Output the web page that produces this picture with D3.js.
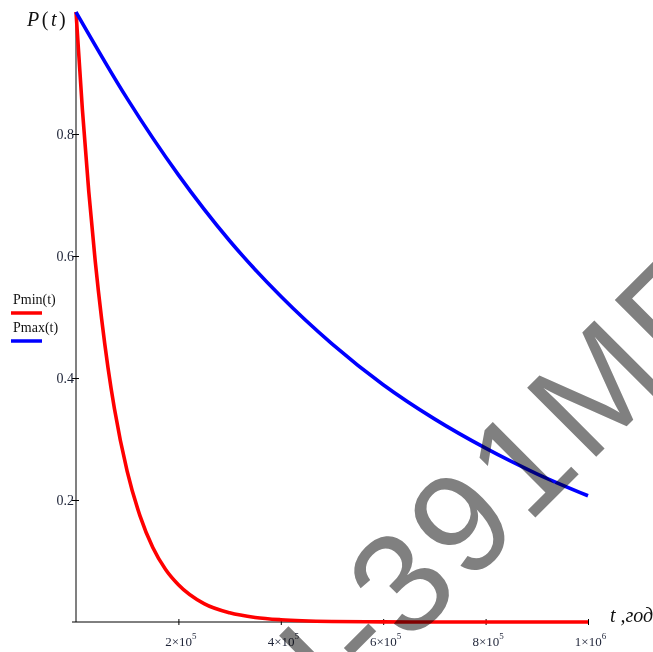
<!DOCTYPE html>
<html>
<head>
<meta charset="utf-8">
<script src="https://cdn.jsdelivr.net/npm/d3@7"></script>
<style>
  body { margin: 0; background: #fff; }
  svg { display: block; }
</style>
</head>
<body>
<svg id="chart"></svg>
<script>
// values
const tMin = [0, 12.5e3, 25e3, 37.5e3, 50e3, 62.5e3, 75e3, 100e3, 125e3, 150e3, 175e3, 200e3, 250e3, 300e3, 350e3, 400e3, 500e3, 600e3, 700e3, 800e3, 900e3, 1e6];
const pMin = [1, 0.84, 0.705, 0.592, 0.497, 0.417, 0.35, 0.247, 0.174, 0.122, 0.086, 0.061, 0.03, 0.015, 0.0074, 0.0037, 0.0009, 0.0002, 0, 0, 0, 0];

const tMax = [0, 1e5, 2e5, 3e5, 4e5, 5e5, 6e5, 7e5, 8e5, 9e5, 1e6];
const pMax = [1, 0.858, 0.733, 0.625, 0.534, 0.456, 0.389, 0.333, 0.285, 0.243, 0.207];

const xTicks = [2e5, 4e5, 6e5, 8e5, 1e6];
const xTickMant = ["2", "4", "6", "8", "1"];
const xTickExp = ["5", "5", "5", "5", "6"];
const yTicks = [0.2, 0.4, 0.6, 0.8];

const seriesNames = ["Pmin(t)", "Pmax(t)"];
const seriesColors = ["#ff0000", "#0000ff"];

const width = 653, height = 652;
const margin = { top: 12, right: 65, bottom: 30, left: 76 };
const serif = "'Liberation Serif', 'Times New Roman', serif";
const labelColor = "#1e2438";

const svg = d3.select("#chart")
  .attr("width", width)
  .attr("height", height)
  .attr("viewBox", [0, 0, width, height]);

svg.append("rect")
  .attr("width", width)
  .attr("height", height)
  .attr("fill", "#fff");

const x = d3.scaleLinear()
  .domain([0, 1e6])
  .range([margin.left, width - margin.right]);

const y = d3.scaleLinear()
  .domain([0, 1])
  .range([height - margin.bottom, margin.top]);

const yAxis = g => g
  .attr("transform", `translate(${margin.left},0)`)
  .call(d3.axisLeft(y).tickValues(yTicks).tickFormat(d3.format(".1f")).tickSizeOuter(0))
  .call(g => g.select(".domain").remove())
  .call(g => g.selectAll(".tick line").attr("x1", -4).attr("x2", 3).attr("stroke", "#000"))
  .call(g => g.selectAll(".tick text")
    .attr("x", -2)
    .attr("dy", "0.35em")
    .attr("font-family", serif)
    .attr("font-size", 14)
    .attr("fill", labelColor));

const xAxis = g => g
  .attr("transform", `translate(0,${y(0)})`)
  .call(d3.axisBottom(x).tickValues(xTicks).tickFormat("").tickSizeOuter(0))
  .call(g => g.select(".domain").remove())
  .call(g => g.selectAll(".tick line").attr("y1", -3).attr("y2", 3).attr("stroke", "#000"))
  .call(g => g.selectAll(".tick text").remove())
  .call(g => g.selectAll(".tick").append("text")
    .attr("x", 2)
    .attr("y", 24)
    .attr("text-anchor", "middle")
    .attr("font-family", serif)
    .attr("font-size", 13)
    .attr("fill", labelColor)
    .each(function(d, i) {
      const t = d3.select(this);
      t.append("tspan").text(xTickMant[i] + "\u00d710");
      t.append("tspan").attr("dy", -7).attr("font-size", 9).text(xTickExp[i]);
    }));

// axis lines: gray vertical, black horizontal
svg.append("line")
  .attr("x1", x(0)).attr("x2", x(0))
  .attr("y1", y(0)).attr("y2", y(1))
  .attr("stroke", "#808080")
  .attr("stroke-width", 2);

svg.append("line")
  .attr("x1", x(0) - 4).attr("x2", x(1e6))
  .attr("y1", y(0)).attr("y2", y(0))
  .attr("stroke", "#000")
  .attr("stroke-width", 1);

svg.append("g").call(yAxis);
svg.append("g").call(xAxis);

const line = d3.line()
  .x(d => x(d[0]))
  .y(d => y(d[1]))
  .curve(d3.curveMonotoneX);

const series = [d3.zip(tMin, pMin), d3.zip(tMax, pMax)];

svg.append("g")
  .attr("fill", "none")
  .attr("stroke-width", 3.6)
  .selectAll("path")
  .data(series)
  .join("path")
  .attr("stroke", (d, i) => seriesColors[i])
  .attr("d", line);

// axis titles
const yTitle = svg.append("text")
  .attr("x", 27)
  .attr("y", 26)
  .attr("font-family", serif)
  .attr("font-size", 20)
  .attr("letter-spacing", 2.5)
  .attr("fill", "#111");
yTitle.append("tspan").attr("font-style", "italic").text("P");
yTitle.append("tspan").text("(");
yTitle.append("tspan").attr("font-style", "italic").text("t");
yTitle.append("tspan").text(")");

svg.append("text")
  .attr("x", 610)
  .attr("y", 622)
  .attr("font-family", serif)
  .attr("font-style", "italic")
  .attr("font-size", 20)
  .attr("fill", "#111")
  .text("t ,год");

// legend
const legend = svg.append("g")
  .selectAll("g")
  .data(seriesNames)
  .join("g")
  .attr("transform", (d, i) => `translate(11,${304 + i * 28})`);

legend.append("text")
  .attr("x", 2)
  .attr("font-family", serif)
  .attr("font-size", 14)
  .attr("fill", "#111")
  .text(d => d);

legend.append("line")
  .attr("x1", 0).attr("x2", 31)
  .attr("y1", 9).attr("y2", 9)
  .attr("stroke", (d, i) => seriesColors[i])
  .attr("stroke-width", 3.5);

// watermark over the plot
const wm = svg.append("g")
  .attr("transform", "translate(370,683) rotate(-45)")
  .style("mix-blend-mode", "multiply")
  .attr("fill", "#808080")
  .attr("font-family", "'Liberation Sans', Arial, sans-serif")
  .attr("font-size", 142)
  .attr("letter-spacing", 6);

wm.append("text").attr("text-anchor", "start").text("-391МП");
wm.append("text").attr("text-anchor", "end").text("Н");
</script>
</body>
</html>
